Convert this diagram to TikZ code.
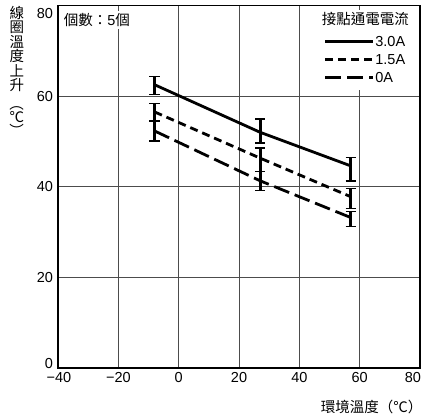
\documentclass[tikz,border=0pt]{standalone}
\usepackage{fontspec}
\setmainfont{Liberation Sans}
\newfontfamily\cjk{Noto Sans CJK TC}
\usetikzlibrary{positioning}

\tikzset{
  gridline/.style={black!70,line width=0.7pt},
  frameline/.style={line width=1.5pt},
  curve/.style={line width=2.8pt},
  ebar/.style={line width=3pt},
  ecap/.style={line width=1.4pt},
  shortdash/.style={dash pattern=on 8pt off 5pt},
  longdash/.style={dash pattern=on 16pt off 6pt},
  lbl/.style={font=\fontsize{14.5}{16}\selectfont,inner sep=1pt},
}
\newcommand{\errbar}[3]{%
  \draw[ebar] (#1,#2) -- (#1,#3);
  \draw[ecap] (#1-1.7,#2) -- (#1+1.7,#2) (#1-1.7,#3) -- (#1+1.7,#3);
}

\begin{document}
\begin{tikzpicture}[x=3.017pt,y=4.5325pt]
      \useasboundingbox (-59.23,-11.25) rectangle (86.28,81.19);
      % grid
      \foreach \x in {-20,0,20,40,60}
        \draw[gridline] (\x,0) -- (\x,80);
      \foreach \y in {20,40,60}
        \draw[gridline] (-40,\y) -- (80,\y);

      \node[lbl,fill=white,anchor=west,inner sep=2pt] (count) at (-38.8,76.8) {{\cjk 個數：}5{\cjk 個}};
      \fill[white] (45.5,61.3) rectangle (78.5,79);
      \draw[frameline] (-40,0) rectangle (80,80);

      % axis numbers
      \node[lbl,anchor=east] (y80) at (-41.3,78.3) {80};
      \node[lbl,anchor=east] (y60) at (-41.3,60) {60};
      \node[lbl,anchor=east] (y40) at (-41.3,40) {40};
      \node[lbl,anchor=east] (y20) at (-41.3,20) {20};
      \node[lbl,anchor=east] (y0) at (-41.3,1.1) {0};
      \node[lbl] (xm40) at (-39.7,-2.2) {−40};
      \node[lbl] (xm20) at (-20,-2.2) {−20};
      \node[lbl] (x0) at (0,-2.2) {0};
      \node[lbl] (x20) at (20,-2.2) {20};
      \node[lbl] (x40) at (40,-2.2) {40};
      \node[lbl] (x60) at (60,-2.2) {60};
      \node[lbl] (x80) at (77.6,-2.2) {80};

      % axis titles
      \foreach \c [count=\i] in {線,圈,溫,度,上,升}
        \node[lbl] (ytitle\i) at (-53.6,{78.26-3.155*(\i-1)}) {\cjk \c};
      \node[lbl,rotate=-90] (yopen) at (-53.6,58.25) {\cjk （};
      \node[lbl] (yunit) at (-53.6,55.3) {\cjk ℃};
      \node[lbl,rotate=-90] (yclose) at (-53.6,52.3) {\cjk ）};
      \node[lbl,anchor=east] (xtitle) at (81.2,-8.6) {\cjk 環境溫度（℃）};

      % 3.0A
      \draw[curve] (-8,62.5) -- (27,52) -- (57,44.6);
      \errbar{-8}{60.3}{64.3}
      \errbar{27}{49.6}{54.9}
      \errbar{57}{41.3}{46.5}
      % 1.5A
      \draw[curve,shortdash] (-8,56.5) -- (27,46.3) -- (57,37.8);
      \errbar{-8}{54.5}{58.4}
      \errbar{27}{43.3}{48.5}
      \errbar{57}{35.2}{39.6}
      % 0A
      \draw[curve,longdash] (-8,52.3) -- (27,41.3) -- (57,33.2);
      \errbar{-8}{50.1}{54.5}
      \errbar{27}{39.1}{43.3}
      \errbar{57}{31.2}{34.5}

      % legend
      \node[lbl] (legtitle) at (61.9,76.9) {\cjk 接點通電電流};
      \draw[curve] (48.5,72) -- (64.4,72) node[lbl,right] (leg30) {3.0A};
      \draw[curve,shortdash] (48.5,68) -- (64.4,68) node[lbl,right] (leg15) {1.5A};
      \draw[curve,longdash] (48.5,64.1) -- (64.4,64.1) node[lbl,right] (leg0) {0A};
\end{tikzpicture}
\end{document}
